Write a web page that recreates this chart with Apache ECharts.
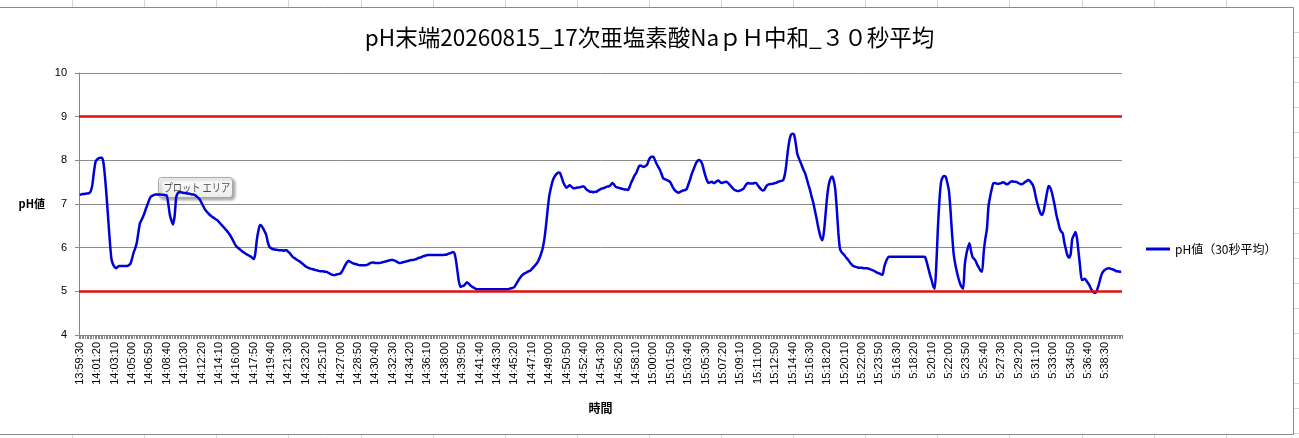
<!DOCTYPE html>
<html>
<head>
<meta charset="utf-8">
<script src="https://cdn.jsdelivr.net/npm/echarts@6/dist/echarts.min.js"></script>
<style>
html,body{margin:0;padding:0;background:#fff;}
#chart{width:1299px;height:438px;}
</style>
</head>
<body>
<div id="chart"></div>
<script>
// ---- data ----
const titleText = 'pH末端20260815_17次亜塩素酸NaｐＨ中和_３０秒平均';
const seriesName = 'pH値（30秒平均）';
const xAxisName = '時間';
const yAxisName = 'pH値';
const yTicks = [4, 5, 6, 7, 8, 9, 10];
const limitLines = [9, 5];
// time categories: [start time, number of 10-second samples]
const timeSegments = [['13:59:30', 517], ['5:16:30', 143]];
const stepSeconds = 10;

const ph30 = [
7.21,7.22,7.23,7.23,7.24,7.24,7.25,7.3,7.45,7.75,
7.97,8.02,8.05,8.06,8.06,7.94,7.6,7.15,6.65,6.15,
5.75,5.62,5.56,5.53,5.56,5.58,5.58,5.58,5.58,5.58,
5.58,5.6,5.63,5.74,5.88,5.98,6.1,6.33,6.55,6.63,
6.71,6.8,6.91,7.0,7.1,7.17,7.19,7.21,7.22,7.22,
7.22,7.22,7.21,7.21,7.2,7.2,7.0,6.75,6.62,6.53,
6.72,7.15,7.25,7.27,7.27,7.26,7.25,7.25,7.24,7.24,
7.23,7.22,7.22,7.2,7.17,7.14,7.1,7.03,6.96,6.89,
6.84,6.8,6.76,6.73,6.7,6.68,6.65,6.63,6.59,6.55,
6.51,6.47,6.43,6.39,6.34,6.29,6.23,6.16,6.09,6.03,
6.0,5.97,5.94,5.91,5.89,5.86,5.84,5.82,5.8,5.77,
5.74,5.85,6.17,6.38,6.52,6.5,6.44,6.37,6.29,6.12,
6.02,5.99,5.97,5.96,5.95,5.95,5.94,5.94,5.94,5.93,
5.94,5.94,5.9,5.87,5.82,5.78,5.76,5.73,5.71,5.69,
5.66,5.63,5.6,5.57,5.55,5.53,5.52,5.51,5.5,5.49,
5.48,5.47,5.46,5.46,5.46,5.45,5.45,5.43,5.41,5.39,
5.38,5.37,5.38,5.39,5.4,5.41,5.46,5.53,5.6,5.66,
5.7,5.68,5.66,5.64,5.63,5.62,5.61,5.6,5.6,5.6,
5.6,5.6,5.61,5.63,5.65,5.66,5.66,5.65,5.65,5.65,
5.65,5.66,5.67,5.68,5.69,5.7,5.71,5.72,5.72,5.71,
5.69,5.67,5.65,5.65,5.66,5.67,5.68,5.69,5.7,5.71,
5.72,5.72,5.73,5.74,5.76,5.77,5.78,5.8,5.81,5.82,
5.83,5.83,5.83,5.83,5.83,5.83,5.83,5.83,5.83,5.83,
5.83,5.84,5.84,5.86,5.87,5.88,5.9,5.88,5.72,5.45,
5.2,5.1,5.12,5.13,5.17,5.21,5.18,5.14,5.11,5.09,
5.07,5.05,5.05,5.05,5.05,5.05,5.05,5.05,5.05,5.05,
5.05,5.05,5.05,5.05,5.05,5.05,5.05,5.05,5.05,5.05,
5.05,5.05,5.06,5.07,5.08,5.1,5.16,5.22,5.28,5.33,
5.37,5.4,5.42,5.44,5.46,5.47,5.51,5.55,5.59,5.63,
5.69,5.77,5.87,6.0,6.2,6.5,6.85,7.17,7.35,7.5,
7.6,7.66,7.7,7.72,7.7,7.6,7.49,7.42,7.37,7.4,
7.43,7.4,7.37,7.36,7.37,7.38,7.38,7.39,7.4,7.4,
7.36,7.32,7.3,7.28,7.28,7.27,7.28,7.28,7.31,7.33,
7.35,7.36,7.37,7.39,7.4,7.41,7.44,7.48,7.45,7.4,
7.38,7.37,7.36,7.35,7.34,7.33,7.33,7.32,7.4,7.5,
7.57,7.65,7.7,7.79,7.87,7.88,7.86,7.85,7.87,7.9,
8.0,8.06,8.08,8.08,8.0,7.92,7.85,7.79,7.7,7.6,
7.57,7.56,7.54,7.52,7.48,7.4,7.34,7.3,7.27,7.26,
7.28,7.3,7.31,7.32,7.34,7.44,7.54,7.66,7.76,7.85,
7.94,7.99,8.01,7.98,7.9,7.76,7.63,7.53,7.48,7.5,
7.51,7.48,7.49,7.52,7.54,7.51,7.48,7.49,7.5,7.51,
7.49,7.45,7.41,7.37,7.33,7.31,7.3,7.3,7.31,7.33,
7.35,7.41,7.46,7.48,7.47,7.47,7.47,7.48,7.48,7.43,
7.38,7.34,7.31,7.32,7.38,7.43,7.45,7.46,7.46,7.47,
7.48,7.49,7.51,7.52,7.53,7.54,7.65,7.88,8.2,8.45,
8.58,8.61,8.59,8.4,8.15,8.05,7.96,7.87,7.78,7.7,
7.58,7.45,7.33,7.18,7.05,6.88,6.71,6.52,6.35,6.22,
6.17,6.4,6.8,7.2,7.45,7.58,7.63,7.55,7.35,6.9,
6.35,5.98,5.9,5.86,5.82,5.77,5.73,5.68,5.63,5.59,
5.57,5.56,5.55,5.54,5.54,5.54,5.53,5.53,5.53,5.52,
5.51,5.49,5.48,5.46,5.44,5.42,5.41,5.39,5.38,5.55,
5.67,5.75,5.79,5.79,5.79,5.79,5.79,5.79,5.79,5.79,
5.79,5.79,5.79,5.79,5.79,5.79,5.79,5.79,5.79,5.79,
5.79,5.79,5.79,5.79,5.79,5.78,5.66,5.52,5.38,5.26,
5.12,5.06,5.6,6.45,7.1,7.5,7.61,7.64,7.62,7.48,
7.3,6.85,6.3,5.85,5.62,5.45,5.3,5.18,5.1,5.06,
5.6,5.85,6.0,6.1,5.92,5.78,5.74,5.69,5.6,5.54,
5.47,5.45,5.9,6.2,6.42,6.94,7.16,7.33,7.47,7.48,
7.47,7.46,7.47,7.48,7.5,7.49,7.46,7.45,7.48,7.51,
7.52,7.51,7.51,7.5,7.48,7.46,7.45,7.47,7.5,7.52,
7.55,7.54,7.49,7.44,7.33,7.15,7.0,6.88,6.78,6.75,
6.85,7.05,7.25,7.41,7.38,7.28,7.12,6.95,6.75,6.6,
6.45,6.37,6.33,6.12,5.96,5.82,5.77,5.85,6.2,6.28,
6.36,6.22,5.9,5.56,5.26,5.27,5.29,5.24,5.19,5.13,
5.05,5.0,4.97,4.97,5.06,5.18,5.32,5.42,5.47,5.5,
5.52,5.53,5.52,5.51,5.5,5.48,5.46,5.46,5.45,5.45
];

// ---- build time categories ----
function buildTimes(segments, step) {
  const out = [];
  segments.forEach(function (seg) {
    const p = seg[0].split(':').map(Number);
    let t = p[0] * 3600 + p[1] * 60 + p[2];
    for (let k = 0; k < seg[1]; k++) {
      const h = Math.floor(t / 3600), m = Math.floor((t % 3600) / 60), s = t % 60;
      out.push(h + ':' + String(m).padStart(2, '0') + ':' + String(s).padStart(2, '0'));
      t += step;
    }
  });
  return out;
}
const times = buildTimes(timeSegments, stepSeconds);

// ---- chart ----
const chart = echarts.init(document.getElementById('chart'), null, {renderer: 'canvas'});
const baseFont = '"Liberation Sans", "Noto Sans CJK JP", sans-serif';
const cjkFont = '"Noto Sans CJK JP", "Liberation Sans", sans-serif';

// spreadsheet frame pieces
const frameGraphics = [];
const frameColor = '#8a8a8a';
const cellColor = '#d4d4d4';
for (let k = 1; k <= 17; k++) {
  const x = Math.round(72.1 * k) + 0.5;
  frameGraphics.push({type: 'line', silent: true, shape: {x1: x, y1: 0, x2: x, y2: 7}, style: {stroke: cellColor, lineWidth: 1}});
  frameGraphics.push({type: 'line', silent: true, shape: {x1: x, y1: 434, x2: x, y2: 438}, style: {stroke: cellColor, lineWidth: 1}});
}
for (let k = 1; k <= 17; k++) {
  const y = Math.round(7 + 25.07 * k) + 0.5;
  frameGraphics.push({type: 'line', silent: true, shape: {x1: 1294, y1: y, x2: 1299, y2: y}, style: {stroke: cellColor, lineWidth: 1}});
}
frameGraphics.push({type: 'line', silent: true, shape: {x1: 0, y1: 7.5, x2: 1293.5, y2: 7.5}, style: {stroke: frameColor, lineWidth: 1}});
frameGraphics.push({type: 'line', silent: true, shape: {x1: 0, y1: 434.5, x2: 1293.5, y2: 434.5}, style: {stroke: frameColor, lineWidth: 1}});
frameGraphics.push({type: 'line', silent: true, shape: {x1: 1293.5, y1: 7.5, x2: 1293.5, y2: 434.5}, style: {stroke: frameColor, lineWidth: 1}});

// hover tag "プロット エリア"
frameGraphics.push({
  type: 'group', left: 158, top: 177, silent: true, z: 100,
  children: [
    {type: 'rect', shape: {x: 0, y: 0, width: 74, height: 20, r: 3},
     style: {fill: new echarts.graphic.LinearGradient(0, 0, 0, 1, [{offset: 0, color: '#ffffff'}, {offset: 1, color: '#ebebeb'}]),
             stroke: '#a9a9a9', lineWidth: 1, shadowBlur: 3, shadowOffsetX: 2, shadowOffsetY: 2, shadowColor: 'rgba(0,0,0,0.35)'}},
    {type: 'text', x: 5, y: 10, scaleX: 0.84, style: {text: 'プロット エリア', fill: '#4a4a4a', font: '11px "Noto Sans CJK JP"', verticalAlign: 'middle'}}
  ]
});

const option = {
  backgroundColor: '#ffffff',
  animation: false,
  title: {
    text: titleText, left: 'center', top: 21,
    textStyle: {fontFamily: cjkFont, fontSize: 22.5, fontWeight: 'normal', color: '#000'}
  },
  legend: {
    data: [seriesName], left: 1141, top: 238, orient: 'vertical',
    icon: 'rect', itemWidth: 24, itemHeight: 3, itemGap: 4,
    textStyle: {fontFamily: cjkFont, fontSize: 12, color: '#000'}
  },
  grid: {left: 79, right: 177, top: 73, bottom: 103, containLabel: false},
  xAxis: {
    type: 'category', data: times, boundaryGap: true,
    name: xAxisName, nameLocation: 'middle', nameGap: 67,
    nameTextStyle: {fontFamily: cjkFont, fontSize: 12, fontWeight: 'bold', color: '#000'},
    axisLine: {lineStyle: {color: '#868686', width: 1}},
    axisTick: {show: true, interval: 0, length: 4, lineStyle: {color: '#868686'}},
    axisLabel: {interval: 10, rotate: 90, margin: 7, fontFamily: baseFont, fontSize: 11, color: '#000'},
    splitLine: {show: false}
  },
  yAxis: {
    type: 'value', min: yTicks[0], max: yTicks[yTicks.length - 1], interval: 1,
    name: yAxisName, nameLocation: 'middle', nameRotate: 0, nameGap: 34,
    nameTextStyle: {fontFamily: cjkFont, fontSize: 11, fontWeight: 'bold', color: '#000'},
    axisLine: {show: true, lineStyle: {color: '#868686', width: 1}},
    axisTick: {show: true, length: 4, lineStyle: {color: '#868686'}},
    axisLabel: {margin: 12, fontFamily: baseFont, fontSize: 11, color: '#000'},
    splitLine: {show: true, lineStyle: {color: '#8c8c8c', width: 1}}
  },
  series: [{
    name: seriesName, type: 'line', data: ph30,
    showSymbol: false, symbol: 'none', smooth: 0.2,
    lineStyle: {color: '#0000d8', width: 2.5},
    itemStyle: {color: '#0000d8'},
    z: 3,
    markLine: {
      silent: true, symbol: ['none', 'none'], label: {show: false},
      lineStyle: {color: '#e01010', width: 2.5, type: 'solid'},
      data: limitLines.map(function (v) { return {yAxis: v}; })
    }
  }],
  graphic: frameGraphics
};
chart.setOption(option);
</script>
</body>
</html>
